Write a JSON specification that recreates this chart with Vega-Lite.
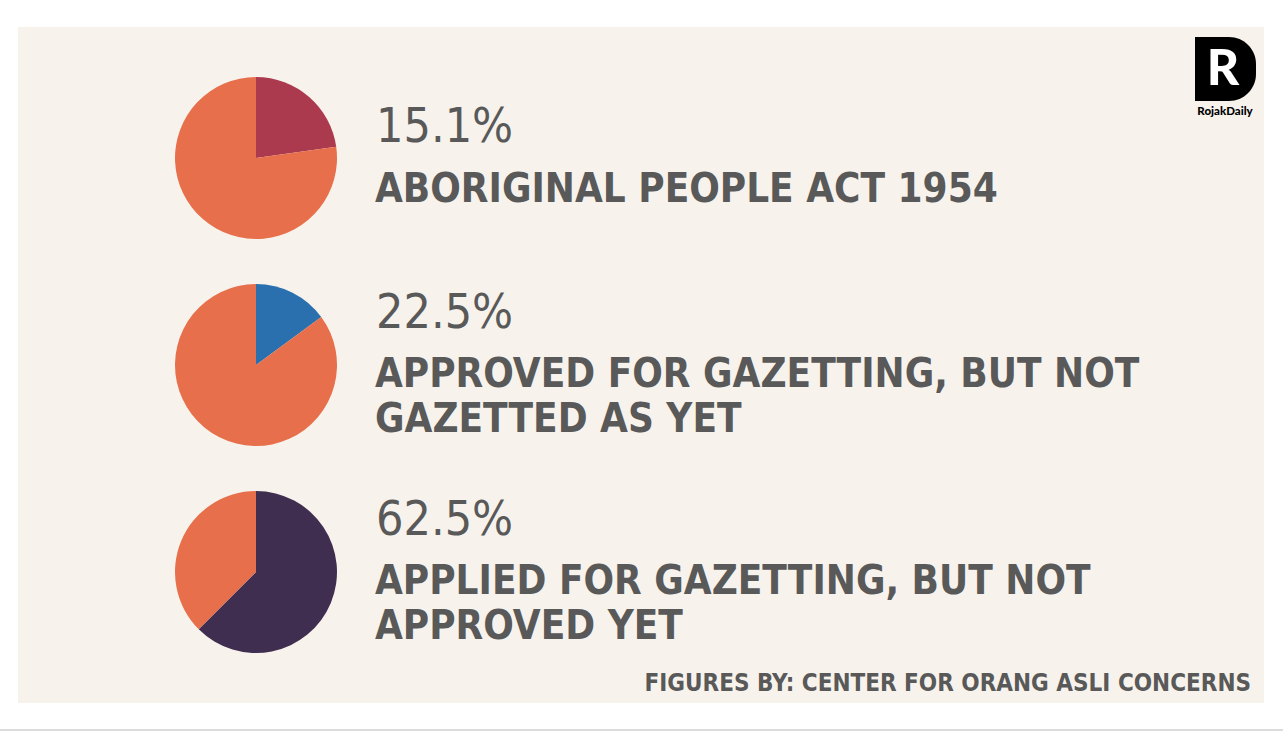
{
  "$schema": "https://vega.github.io/schema/vega-lite/v6.json",
  "width": 1246,
  "height": 676,
  "autosize": {"type": "none"},
  "padding": {"left": 18, "top": 27, "right": 19, "bottom": 28},
  "background": "#ffffff",
  "config": {"view": {"stroke": null, "fill": "#f7f3ec"}},
  "datasets": {
    "slices": [
      {"item": "A", "slice": "Aboriginal People Act 1954", "share": 22.8, "ord": 1},
      {"item": "A", "slice": "Remainder", "share": 77.2, "ord": 2},
      {"item": "B", "slice": "Approved, not gazetted", "share": 14.9, "ord": 1},
      {"item": "B", "slice": "Remainder", "share": 85.1, "ord": 2},
      {"item": "C", "slice": "Applied, not approved", "share": 62.5, "ord": 1},
      {"item": "C", "slice": "Remainder", "share": 37.5, "ord": 2}
    ],
    "labels": [
      {"item": "A", "pct": "15.1%", "label": "ABORIGINAL PEOPLE ACT 1954", "lines": 1},
      {"item": "B", "pct": "22.5%", "label": "APPROVED FOR GAZETTING, BUT NOT\nGAZETTED AS YET", "lines": 2},
      {"item": "C", "pct": "62.5%", "label": "APPLIED FOR GAZETTING, BUT NOT\nAPPROVED YET", "lines": 2}
    ],
    "notes": [
      {"note": "FIGURES BY: CENTER FOR ORANG ASLI CONCERNS"}
    ]
  },
  "layer": [
    {
      "data": {"values": [{"edge": "bottom"}]},
      "mark": {"type": "rule", "color": "#dcdcdc", "strokeWidth": 2, "clip": false},
      "encoding": {
        "x": {"datum": -18, "type": "quantitative", "scale": {"domain": [0, 1246], "nice": false, "zero": true}, "axis": null},
        "x2": {"datum": 1265},
        "y": {"datum": 703, "type": "quantitative", "scale": {"domain": [0, 676], "reverse": true, "nice": false}, "axis": null}
      }
    },
    {
      "data": {"name": "slices"},
      "transform": [
        {"stack": "share", "groupby": ["item"], "sort": [{"field": "ord", "order": "ascending"}], "as": ["s0", "s1"]}
      ],
      "mark": {"type": "arc", "outerRadius": 81},
      "encoding": {
        "x": {"datum": 238, "type": "quantitative"},
        "y": {"field": "item", "type": "nominal", "scale": {"type": "point", "domain": ["A", "B", "C"], "padding": 0.633}, "axis": null},
        "theta": {"field": "s0", "type": "quantitative", "scale": {"domain": [0, 100]}},
        "theta2": {"field": "s1"},
        "color": {"field": "slice", "type": "nominal", "legend": null,
          "scale": {"domain": ["Aboriginal People Act 1954", "Approved, not gazetted", "Applied, not approved", "Remainder"],
                    "range": ["#ac3a4f", "#2a70ae", "#402e50", "#e76f4b"]}}
      }
    },
    {
      "data": {"name": "labels"},
      "transform": [{"filter": "datum.lines == 1"}],
      "mark": {"type": "text", "align": "left", "baseline": "middle", "dy": -30, "font": "DejaVu Sans Condensed, sans-serif", "fontSize": 48, "fontWeight": "normal", "color": "#595959"},
      "encoding": {
        "x": {"datum": 358, "type": "quantitative"},
        "y": {"field": "item", "type": "nominal", "scale": {"type": "point", "domain": ["A", "B", "C"], "padding": 0.633}, "axis": null},
        "text": {"field": "pct"}
      }
    },
    {
      "data": {"name": "labels"},
      "transform": [{"filter": "datum.lines == 2"}],
      "mark": {"type": "text", "align": "left", "baseline": "middle", "dy": -51, "font": "DejaVu Sans Condensed, sans-serif", "fontSize": 48, "fontWeight": "normal", "color": "#595959"},
      "encoding": {
        "x": {"datum": 358, "type": "quantitative"},
        "y": {"field": "item", "type": "nominal", "scale": {"type": "point", "domain": ["A", "B", "C"], "padding": 0.633}, "axis": null},
        "text": {"field": "pct"}
      }
    },
    {
      "data": {"name": "labels"},
      "transform": [{"filter": "datum.lines == 1"}],
      "mark": {"type": "text", "align": "left", "baseline": "middle", "dy": 32, "lineBreak": "\n", "lineHeight": 45, "font": "DejaVu Sans Condensed, sans-serif", "fontSize": 40, "fontWeight": "bold", "color": "#595959"},
      "encoding": {
        "x": {"datum": 357, "type": "quantitative"},
        "y": {"field": "item", "type": "nominal", "scale": {"type": "point", "domain": ["A", "B", "C"], "padding": 0.633}, "axis": null},
        "text": {"field": "label"}
      }
    },
    {
      "data": {"name": "labels"},
      "transform": [{"filter": "datum.lines == 2"}],
      "mark": {"type": "text", "align": "left", "baseline": "middle", "dy": 10, "lineBreak": "\n", "lineHeight": 45, "font": "DejaVu Sans Condensed, sans-serif", "fontSize": 40, "fontWeight": "bold", "color": "#595959"},
      "encoding": {
        "x": {"datum": 357, "type": "quantitative"},
        "y": {"field": "item", "type": "nominal", "scale": {"type": "point", "domain": ["A", "B", "C"], "padding": 0.633}, "axis": null},
        "text": {"field": "label"}
      }
    },
    {
      "data": {"name": "notes"},
      "mark": {"type": "text", "align": "right", "baseline": "middle", "font": "DejaVu Sans Condensed, sans-serif", "fontSize": 24, "fontWeight": "bold", "color": "#595959"},
      "encoding": {
        "x": {"datum": 1233, "type": "quantitative"},
        "y": {"datum": 657, "type": "quantitative", "scale": {"domain": [0, 676], "reverse": true, "nice": false}, "axis": null},
        "text": {"field": "note"}
      }
    },
    {
      "data": {"values": [{"brand": "RojakDaily"}]},
      "mark": {"type": "rect", "color": "#000000", "cornerRadiusTopRight": 27, "cornerRadiusBottomRight": 27},
      "encoding": {
        "x": {"datum": 1177, "type": "quantitative"},
        "x2": {"datum": 1238},
        "y": {"datum": 10, "type": "quantitative", "scale": {"domain": [0, 676], "reverse": true, "nice": false}, "axis": null},
        "y2": {"datum": 74}
      }
    },
    {
      "data": {"values": [{"brand": "R"}]},
      "mark": {"type": "text", "align": "center", "baseline": "middle", "font": "Lato, Inter, sans-serif", "fontSize": 50, "fontWeight": 900, "color": "#ffffff"},
      "encoding": {
        "x": {"datum": 1205, "type": "quantitative"},
        "y": {"datum": 43, "type": "quantitative", "scale": {"domain": [0, 676], "reverse": true, "nice": false}, "axis": null},
        "text": {"field": "brand"}
      }
    },
    {
      "data": {"values": [{"brand": "RojakDaily"}]},
      "mark": {"type": "text", "align": "center", "baseline": "middle", "font": "Lato, Inter, sans-serif", "fontSize": 11.5, "fontWeight": 900, "color": "#000000"},
      "encoding": {
        "x": {"datum": 1207, "type": "quantitative"},
        "y": {"datum": 85, "type": "quantitative", "scale": {"domain": [0, 676], "reverse": true, "nice": false}, "axis": null},
        "text": {"field": "brand"}
      }
    }
  ],
  "resolve": {"scale": {"y": "independent"}}
}
